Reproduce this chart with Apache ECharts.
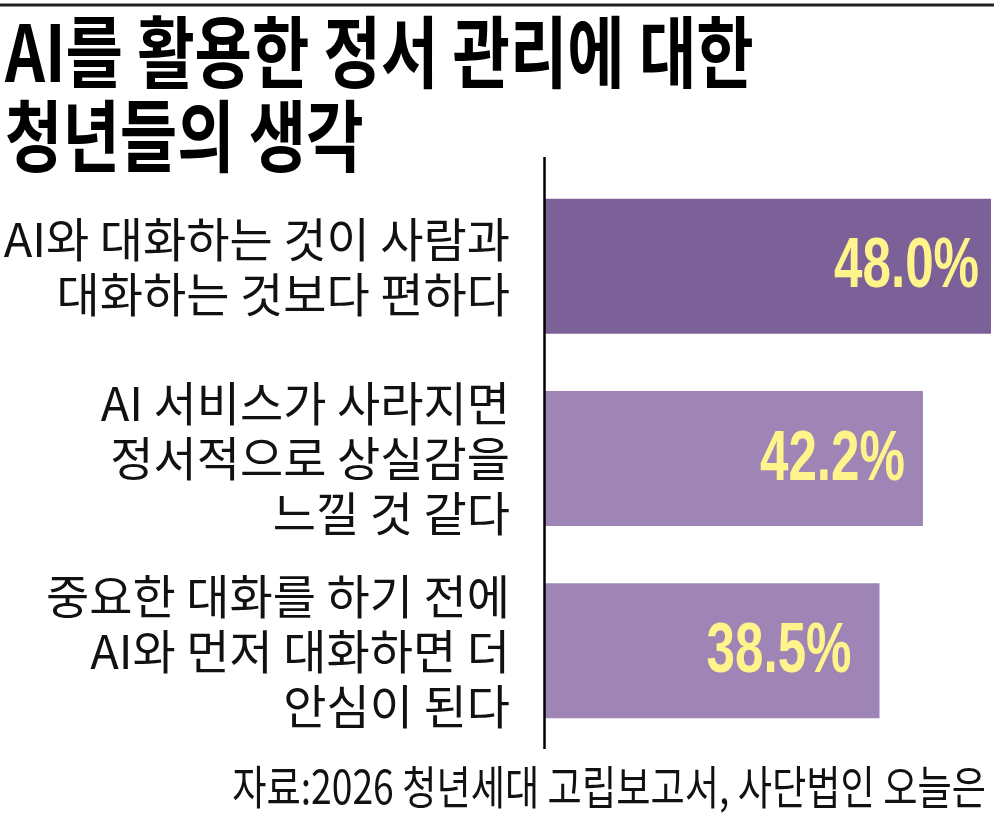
<!DOCTYPE html>
<html>
<head>
<meta charset="utf-8">
<script src="https://cdn.jsdelivr.net/npm/echarts@6/dist/echarts.min.js"></script>
<style>
html,body{margin:0;padding:0;background:#fff;}
#chart{width:1000px;height:822px;}
</style>
</head>
<body>
<div id="chart"></div>
<script>
// ---- data ----
const titleLines = ['AI를 활용한 정서 관리에 대한', '청년들의 생각'];
const categories = [
  'AI와 대화하는 것이 사람과\n대화하는 것보다 편하다',
  'AI 서비스가 사라지면\n정서적으로 상실감을\n느낄 것 같다',
  '중요한 대화를 하기 전에\nAI와 먼저 대화하면 더\n안심이 된다'
];
const values = [48.0, 42.2, 38.5];
const sourceText = '자료:2026 청년세대 고립보고서, 사단법인 오늘은';

// ---- styles ----
const barColors = ['#7b6197', '#9e85b6', '#9e85b6'];
const labelDistances = [12, 18, 28];
const KR = "'Noto Sans CJK KR', sans-serif";

const chart = echarts.init(document.getElementById('chart'), null, {renderer: 'canvas'});

chart.setOption({
  backgroundColor: '#ffffff',
  animation: false,
  grid: {left: 545, right: 9, top: 170, bottom: 75, containLabel: false},
  xAxis: {
    type: 'value', min: 10, max: 48,
    show: false
  },
  yAxis: {
    type: 'category',
    data: categories,
    inverse: true,
    axisLine: {show: false},
    axisTick: {show: false},
    axisLabel: {
      margin: 35,
      color: '#111',
      fontFamily: KR,
      fontSize: 47,
      lineHeight: 55,
      align: 'right'
    }
  },
  series: [{
    type: 'bar',
    barWidth: 135,
    data: values.map((v, i) => ({
      value: v,
      itemStyle: {color: barColors[i]}
    }))
  }, {
    type: 'custom',
    data: values.map((v, i) => [v, i]),
    encode: {x: 0, y: 1},
    z: 5,
    renderItem: function (params, api) {
      const i = api.value(1);
      const pt = api.coord([api.value(0), i]);
      return {
        type: 'text',
        x: pt[0] - labelDistances[i],
        y: pt[1] + 2,
        scaleX: 0.73,
        style: {
          text: api.value(0).toFixed(1) + '%',
          fontFamily: "'Liberation Sans', Arial, sans-serif",
          fontWeight: 'bold',
          fontSize: 70,
          fill: '#fff48c',
          textAlign: 'right',
          textVerticalAlign: 'middle'
        }
      };
    }
  }],
  graphic: [
    {type: 'line', shape: {x1: 0, y1: 5, x2: 994, y2: 5}, style: {stroke: '#222', lineWidth: 3}},
    {type: 'line', shape: {x1: 544.5, y1: 157, x2: 544.5, y2: 749}, style: {stroke: '#000', lineWidth: 2.5}, z: 10},
    {type: 'text', x: 5, y: 52, scaleX: 0.80,
      style: {text: titleLines[0], fontFamily: KR, fontWeight: 'bold', fontSize: 78, fill: '#000', textAlign: 'left', textVerticalAlign: 'middle'}},
    {type: 'text', x: 5, y: 136, scaleX: 0.80,
      style: {text: titleLines[1], fontFamily: KR, fontWeight: 'bold', fontSize: 78, fill: '#000', textAlign: 'left', textVerticalAlign: 'middle'}},
    {type: 'text', x: 986, y: 787, scaleX: 0.81,
      style: {text: sourceText, fontFamily: KR, fontSize: 46, fill: '#111', textAlign: 'right', textVerticalAlign: 'middle'}}
  ]
});
</script>
</body>
</html>
